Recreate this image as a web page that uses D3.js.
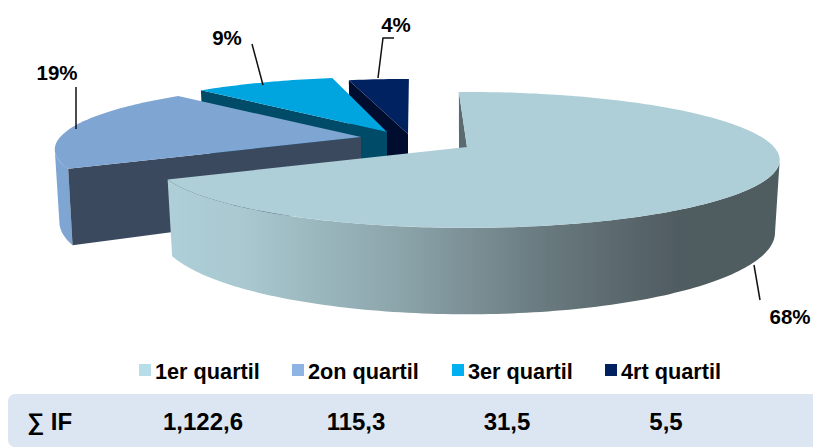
<!DOCTYPE html>
<html>
<head>
<meta charset="utf-8">
<script src="https://cdn.jsdelivr.net/npm/d3@7"></script>
<style>
    html, body { margin: 0; padding: 0; background: #fff; }
    svg { display: block; }
    text { font-family: "Liberation Sans", Arial, sans-serif; font-weight: bold; fill: #000; }
</style>
</head>
<body>
<div id="chart"></div>
<script>
// data
const quartiles = ["1er quartil", "2on quartil", "3er quartil", "4rt quartil"];
const shares = [68, 19, 9, 4];
const shareLabels = ["68%", "19%", "9%", "4%"];
const rowTitle = "∑ IF";
const rowValues = ["1,122,6", "115,3", "31,5", "5,5"];

// colours
const topColors = ["#aecfd8", "#7fa5d3", "#00a5e0", "#002060"];
const sideColors = ["#5a6a70", "#3b4a5f", "#004c68", "#000f2e"];
const outerColors = ["url(#wallGradient)", "#7fa5d3", "#00506f", "#000f2e"];
const legendColors = ["#b7dde8", "#8eb4e3", "#00b0f0", "#002060"];

// layout of the exploded 3d pie
const width = 813, height = 447;
const center = { x: 467, y: 147 };
const radius = 307, tilt = 65.5 / 307, perspective = 0.19, depth = 70;
const sliceShift = [[0, 0], [-106, -10], [-80, -15], [-59, -13]];
const sliceScale = [1, 0.98, 1, 1];
// the small slices sit a few degrees off their share, in degrees [start, end]
const sliceTurn = [[0, 0], [0, 5], [5, 4], [3, 2]];
const labelPos = [[790, 324], [57, 80], [227, 45], [396, 32]];
const leaders = [
    [[754, 265], [760, 300]],
    [[76, 129], [76, 87]],
    [[263, 85], [252, 44]],
    [[378, 78], [383, 38], [394, 38]]
];

const svg = d3.select("#chart").append("svg")
    .attr("width", width)
    .attr("height", height);

const defs = svg.append("defs");
const wallGradient = defs.append("linearGradient")
    .attr("id", "wallGradient")
    .attr("gradientUnits", "userSpaceOnUse")
    .attr("x1", 170).attr("x2", 780).attr("y1", 0).attr("y2", 0);
[[0, "#aecfd8"], [0.12, "#a9c8d0"], [0.38, "#8ba4aa"], [0.62, "#68797e"], [0.84, "#4f5b60"], [1, "#4f5b60"]]
    .forEach(s => wallGradient.append("stop").attr("offset", s[0]).attr("stop-color", s[1]));
defs.append("filter").attr("id", "soft")
    .append("feGaussianBlur").attr("stdDeviation", 0.5);

// puts a point of the pie on screen, level 0 = top face, level 1 = bottom face
function project(angle, r, level, shift) {
    const X = r * Math.sin(angle);
    const Y = -r * Math.cos(angle);
    const s = 1 / (1 - perspective * Y / radius);
    const squeeze = level ? 0.985 : 1;
    return [
        center.x + shift[0] + X * s * squeeze,
        center.y + shift[1] + (Y * tilt + level * depth) * s
    ];
}

function arcPoints(a0, a1, r, level, shift) {
    const n = Math.ceil(Math.abs(a1 - a0) / 0.02);
    return d3.range(n + 1).map(i => project(a0 + (a1 - a0) * i / n, r, level, shift));
}

const line = d3.line();
const startAngle = -1.8 * Math.PI / 180;
const pie = d3.pie().sort(null).startAngle(startAngle).endAngle(startAngle + 2 * Math.PI);

const slices = pie(shares).map((d, i) => ({
    index: i,
    a0: d.startAngle + sliceTurn[i][0] * Math.PI / 180,
    a1: d.endAngle + sliceTurn[i][1] * Math.PI / 180,
    r: radius * sliceScale[i],
    shift: sliceShift[i]
}));

// the outer wall only shows between the left and right extremes of the ellipse
const frontStart = Math.acos(-perspective);
const frontEnd = 2 * Math.PI - frontStart;

const pieGroup = svg.append("g").attr("class", "pie").attr("filter", "url(#soft)");

// back to front, the big slice goes last
slices.slice().reverse().forEach(d => {
    const g = pieGroup.append("g").attr("class", "slice-" + d.index);
    const apexTop = project(0, 0, 0, d.shift);
    const apexBottom = project(0, 0, 1, d.shift);

    // outer wall
    const w0 = Math.max(d.a0, frontStart);
    const w1 = Math.min(d.a1, frontEnd);
    if (w0 < w1) {
        g.append("path")
            .attr("d", line(arcPoints(w0, w1, d.r, 0, d.shift).concat(arcPoints(w1, w0, d.r, 1, d.shift))) + "Z")
            .attr("fill", outerColors[d.index]);
    }

    // wall along the start of the slice
    g.append("path")
        .attr("d", line([apexTop, project(d.a0, d.r, 0, d.shift), project(d.a0, d.r, 1, d.shift), apexBottom]) + "Z")
        .attr("fill", sideColors[d.index]);

    // top face
    g.append("path")
        .attr("d", line([apexTop].concat(arcPoints(d.a0, d.a1, d.r, 0, d.shift))) + "Z")
        .attr("fill", topColors[d.index]);
});

// leader lines
svg.append("g").selectAll("path")
    .data(leaders)
    .join("path")
    .attr("d", d => line(d))
    .attr("fill", "none")
    .attr("stroke", "#111")
    .attr("stroke-width", 1.5);

// percent labels
svg.append("g").selectAll("text")
    .data(shareLabels)
    .join("text")
    .attr("x", (d, i) => labelPos[i][0])
    .attr("y", (d, i) => labelPos[i][1])
    .attr("text-anchor", "middle")
    .attr("font-size", 20.5)
    .text(d => d);

// legend
const legendX = d3.scaleOrdinal().domain(quartiles).range([139, 292, 452, 605]);
const legend = svg.append("g").selectAll("g")
    .data(quartiles)
    .join("g")
    .attr("transform", d => `translate(${legendX(d)}, 364)`);
legend.append("rect")
    .attr("width", 12)
    .attr("height", 12)
    .attr("fill", (d, i) => legendColors[i]);
legend.append("text")
    .attr("x", 16)
    .attr("y", 15)
    .attr("font-size", 21.7)
    .text(d => d);

// table row under the legend
svg.append("rect")
    .attr("x", 8)
    .attr("y", 394)
    .attr("width", 830)
    .attr("height", 53)
    .attr("rx", 7)
    .attr("fill", "#dce6f2");
svg.append("text")
    .attr("x", 27)
    .attr("y", 430)
    .attr("font-size", 24)
    .text(rowTitle);
const rowX = d3.scaleOrdinal().domain(rowValues).range([203, 356, 507, 666]);
svg.append("g").selectAll("text")
    .data(rowValues)
    .join("text")
    .attr("x", d => rowX(d))
    .attr("y", 430)
    .attr("text-anchor", "middle")
    .attr("font-size", 24)
    .text(d => d);
</script>
</body>
</html>
